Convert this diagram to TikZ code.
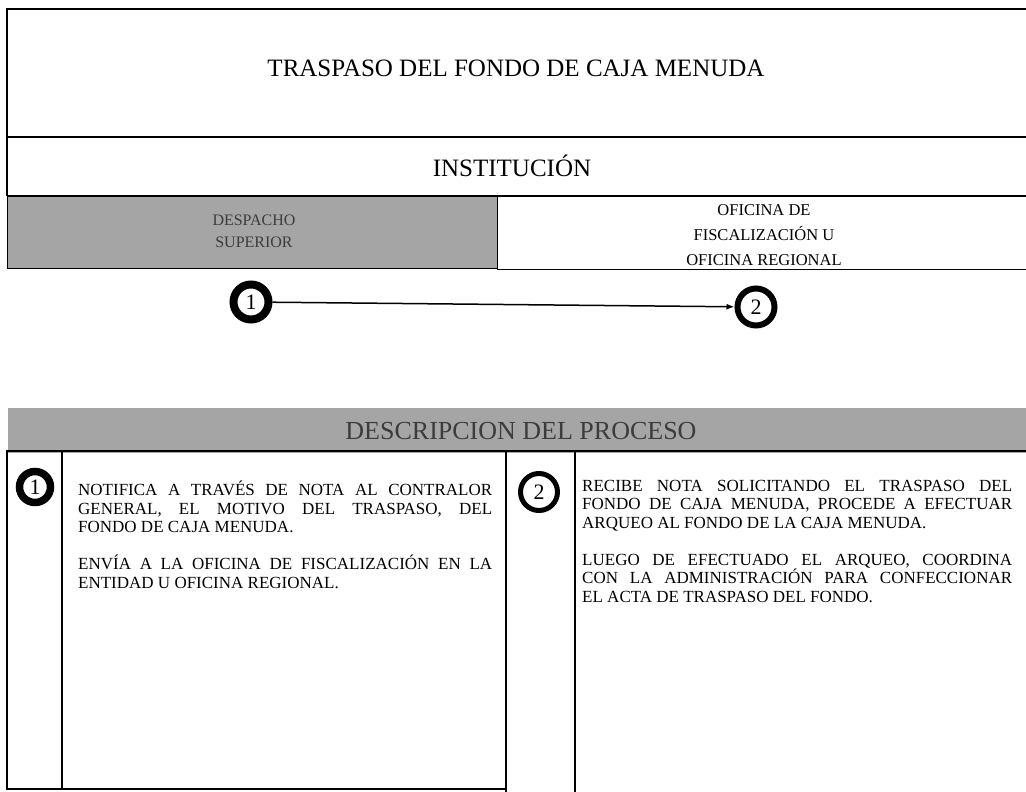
\documentclass[tikz,border=0pt]{standalone}
\usepackage{fontspec}
\setmainfont{Liberation Serif}
\usetikzlibrary{arrows.meta}
\definecolor{scangray}{RGB}{165,165,165}
\definecolor{scantext}{RGB}{60,60,60}
\tikzset{
  frame/.style={draw=black, line width=1.3pt},
  numcircle/.style={circle, draw=black, line width=7pt, fill=white, inner sep=0pt,
    minimum size=34pt, font=\fontsize{22}{22}\selectfont},
  bodytext/.style={anchor=north west, inner sep=0pt, align=justify,
    font=\fontsize{17}{18.5}\selectfont},
  graybox/.style={fill=scangray, draw=black, line width=1pt, anchor=north west, inner sep=0pt},
}
\begin{document}
\begin{tikzpicture}[x=1pt,y=-1pt]
\useasboundingbox (0,0) rectangle (1026,792);
\fill[white] (0,0) rectangle (1026,792);

% header frame
\draw[frame] (1026,9) -- (7,9) -- (7,196);
\draw[frame] (7,137) -- (1026,137);
\draw[frame] (7,196) -- (1026,196);
\node[font=\fontsize{25}{25}\selectfont] (title) at (516,68) {TRASPASO DEL FONDO DE CAJA MENUDA};
\node[font=\fontsize{25}{25}\selectfont] (inst) at (512,166) {INSTITUCIÓN};

% swimlane headers
\node[graybox, minimum width=490pt, minimum height=72pt] (despbox) at (7,196) {};
\node[align=center, text=scantext, font=\fontsize{16}{22}\selectfont] (desp) at (254,231) {DESPACHO\\SUPERIOR};
\node[anchor=north west, minimum width=529pt, minimum height=72pt, inner sep=0pt] (ofibox) at (497,197) {};
\node[align=center, font=\fontsize{16.5}{25}\selectfont] (ofi) at (764,235) {OFICINA DE\\FISCALIZACIÓN U\\OFICINA REGIONAL};
\draw[frame] (ofibox.south west) -- (ofibox.south east);

% flow
\node[numcircle, minimum size=35pt, line width=8pt] (c1) at (251,302) {1};
\node[numcircle, minimum size=37pt, line width=6pt] (c2) at (756,307) {2};
\draw[line width=1.5pt, -{Latex[length=8pt,width=6pt]}] (c1) -- (c2);

% description band
\node[graybox, draw=none, minimum width=1019pt, minimum height=45pt] (band) at (7,407) {};
\node[text=scantext, font=\fontsize{26}{26}\selectfont] (bandtext) at (521,431) {DESCRIPCION DEL PROCESO};

% description frames
\draw[frame] (7,451) rectangle (506,789);
\draw[frame] (62,451) -- (62,789);
\draw[frame] (506,451) -- (1026,451);
\draw[frame] (506,789) -- (506,792);
\draw[frame] (575,451) -- (575,792);

\node[numcircle, minimum size=31pt, line width=7.5pt] (d1) at (35,487) {1};
\node[numcircle, minimum size=37pt, line width=5pt] (d2) at (539,492) {2};

\node[bodytext, text width=414pt] (t1) at (78,481) {NOTIFICA A TRAVÉS DE NOTA AL CONTRALOR\linebreak
GENERAL, EL MOTIVO DEL TRASPASO, DEL\linebreak
FONDO DE CAJA MENUDA.\par\vspace{18.5pt}
ENVÍA A LA OFICINA DE FISCALIZACIÓN EN LA\linebreak
ENTIDAD U OFICINA REGIONAL.};

\node[bodytext, text width=430pt] (t2) at (582,480) {RECIBE NOTA SOLICITANDO EL TRASPASO DEL\linebreak
FONDO DE CAJA MENUDA, PROCEDE A EFECTUAR\linebreak
ARQUEO AL FONDO DE LA CAJA MENUDA.\par\vspace{18.5pt}
LUEGO DE EFECTUADO EL ARQUEO, COORDINA\linebreak
CON LA ADMINISTRACIÓN PARA CONFECCIONAR\linebreak
EL ACTA DE TRASPASO DEL FONDO.};
\end{tikzpicture}
\end{document}
